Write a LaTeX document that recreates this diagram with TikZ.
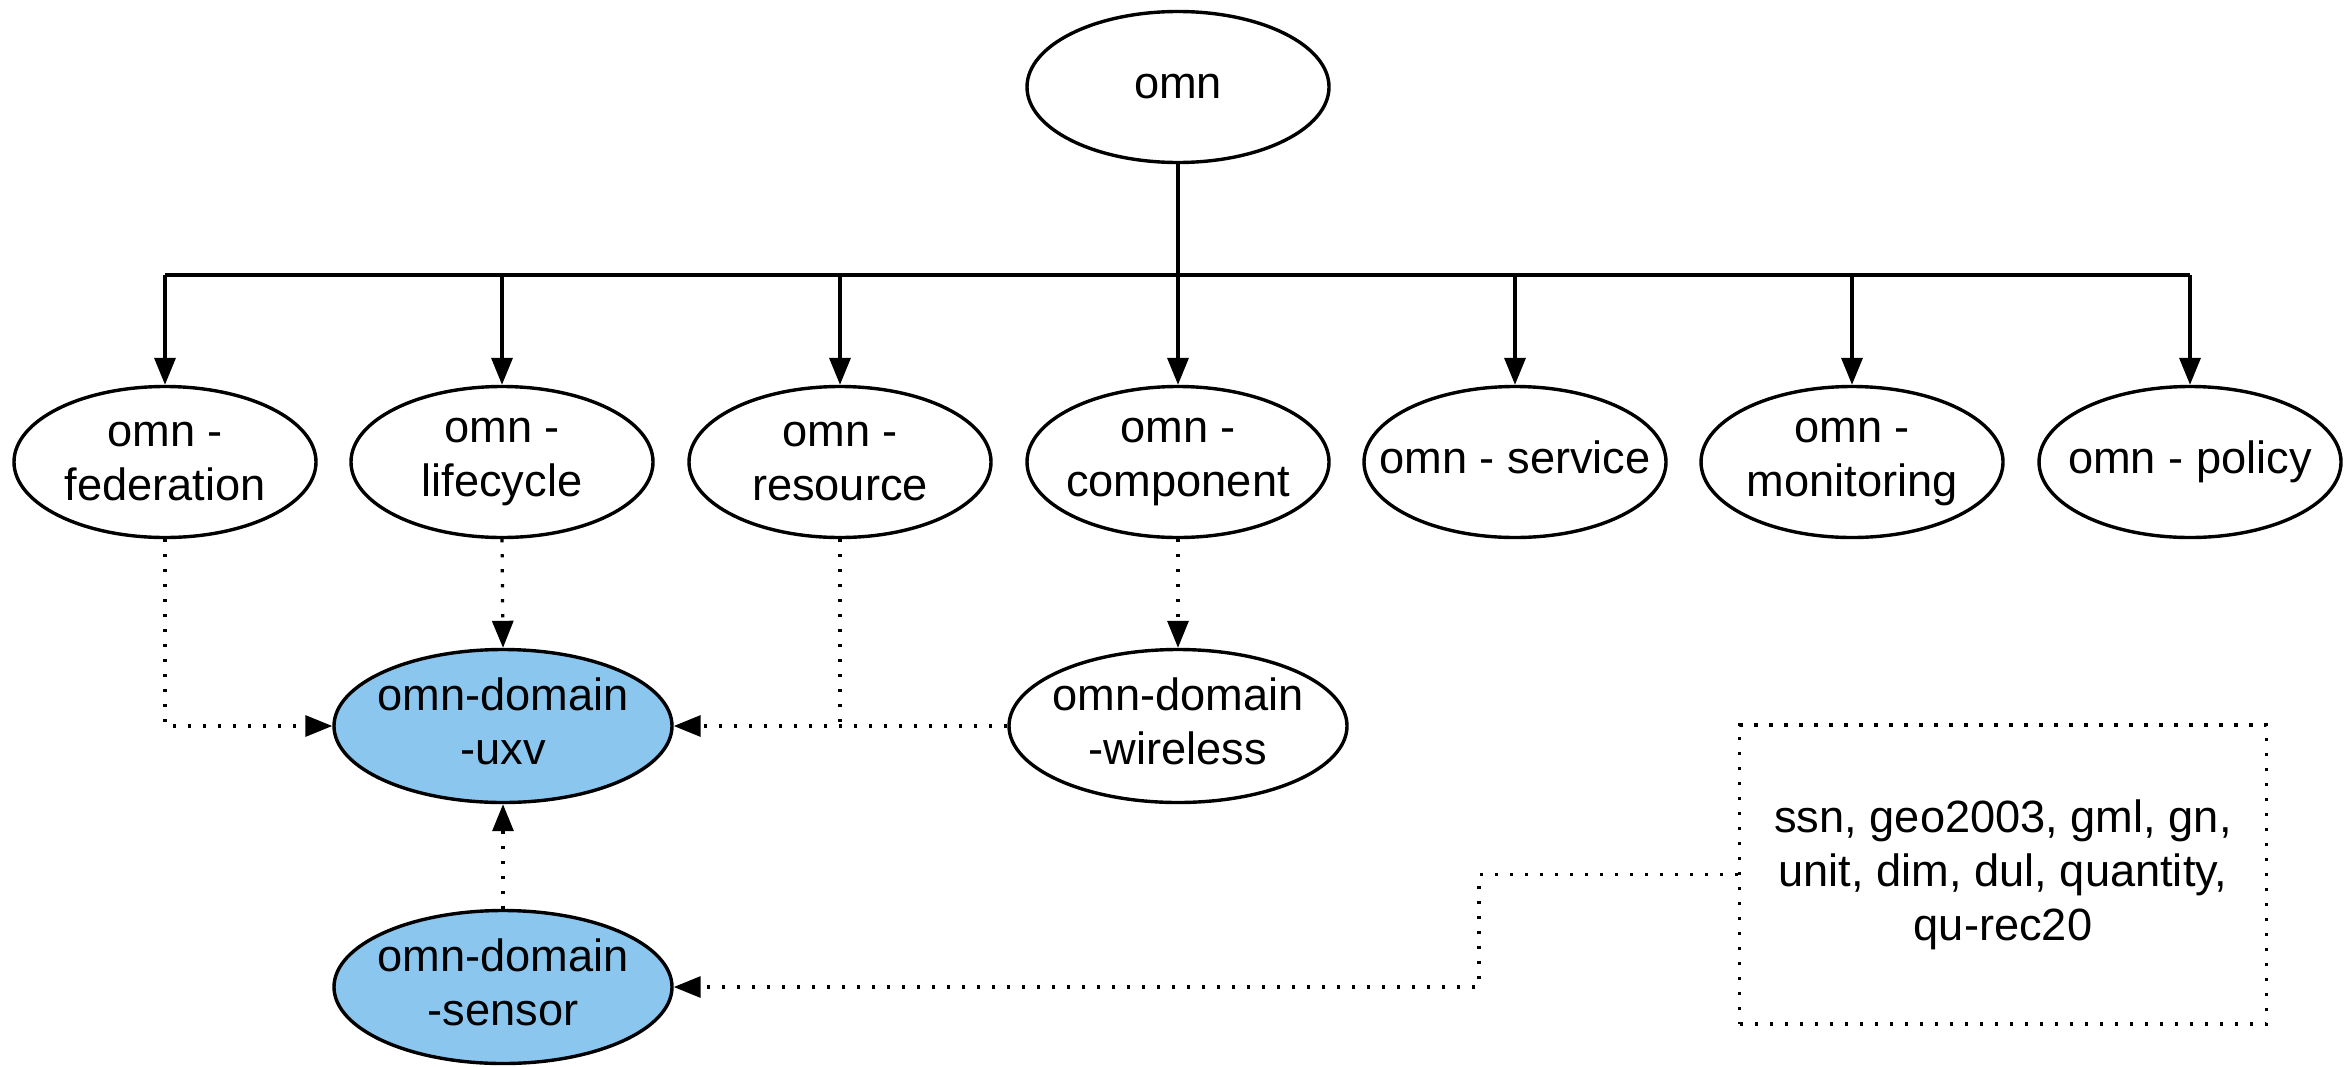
\documentclass[tikz,border=0pt]{standalone}
\usepackage{fontspec}
\setmainfont{Liberation Sans}
\usetikzlibrary{shapes.geometric,arrows.meta}
\definecolor{nodeblue}{RGB}{138,198,238}
\tikzset{
  ell/.style={ellipse, draw=black, line width=1.7pt, fill=white, inner sep=0pt, inner xsep=-16pt,
    minimum width=151pt, minimum height=75.5pt, align=center,
    font=\fontsize{22.6}{27}\selectfont},
  raised/.style={text depth=4.5pt},
  dom/.style={ell, raised, minimum width=169pt, minimum height=76.5pt},
  blue/.style={fill=nodeblue},
  solidc/.style={line width=1.8pt, draw=black},
  arr/.style={-{Triangle[length=13.5pt,width=10.5pt]}},
  dotc/.style={line width=1.6pt, dash pattern=on 1.6pt off 5.9pt, draw=black},
  notebox/.style={rectangle, dotc, minimum width=263.5pt, minimum height=149.5pt, align=center,
    font=\fontsize{22.6}{27}\selectfont}
}
\begin{document}
\begin{tikzpicture}[x=0.5pt,y=-0.5pt]
\useasboundingbox (0,0) rectangle (2349,1066);
% nodes
\node[ell] (omn) at (1178,87) {omn};
\node[ell] (fed) at (165,462) {omn -\\federation};
\node[ell] (life) at (502,462) {omn -\\lifecycle};
\node[ell] (res) at (840,462) {omn -\\resource};
\node[ell] (comp) at (1178,462) {omn -\\component};
\node[ell,raised] (serv) at (1515,462) {omn - service};
\node[ell] (mon) at (1852,462) {omn -\\monitoring};
\node[ell] (pol) at (2190,462) {omn - policy};
\node[dom,blue] (uxv) at (503,726) {omn-domain\\-uxv};
\node[dom] (wire) at (1178,726) {omn-domain\\-wireless};
\node[dom,blue] (sens) at (503,987) {omn-domain\\-sensor};
\node[notebox] (box) at (2003,874.5) {ssn, geo2003, gml, gn,\\unit, dim, dul, quantity,\\qu-rec20};
% bus
\coordinate (busL) at (165,275);
\coordinate (busR) at (2190,275);
\draw[solidc] (omn.south) -- (omn.south |- busL);
\draw[solidc] (busL) -- (busR);
\foreach \n in {fed,life,res,comp,serv,mon,pol}{
  \draw[solidc,arr] (\n.north |- busL) -- (\n.north);
}
% dotted dependencies
\draw[dotc,arr] (fed.south) |- (uxv.west);
\draw[dotc,arr] (life.south) -- (uxv.north);
\draw[dotc] (res.south) -- (res.south |- uxv.east);
\draw[dotc,arr] (wire.west) -- (uxv.east);
\draw[dotc,arr] (comp.south) -- (wire.north);
\draw[dotc,arr] (sens.north) -- (uxv.south);
\coordinate (bend) at (1479,874.5);
\draw[dotc,arr] (box.west) -- (bend) |- (sens.east);
\end{tikzpicture}
\end{document}
